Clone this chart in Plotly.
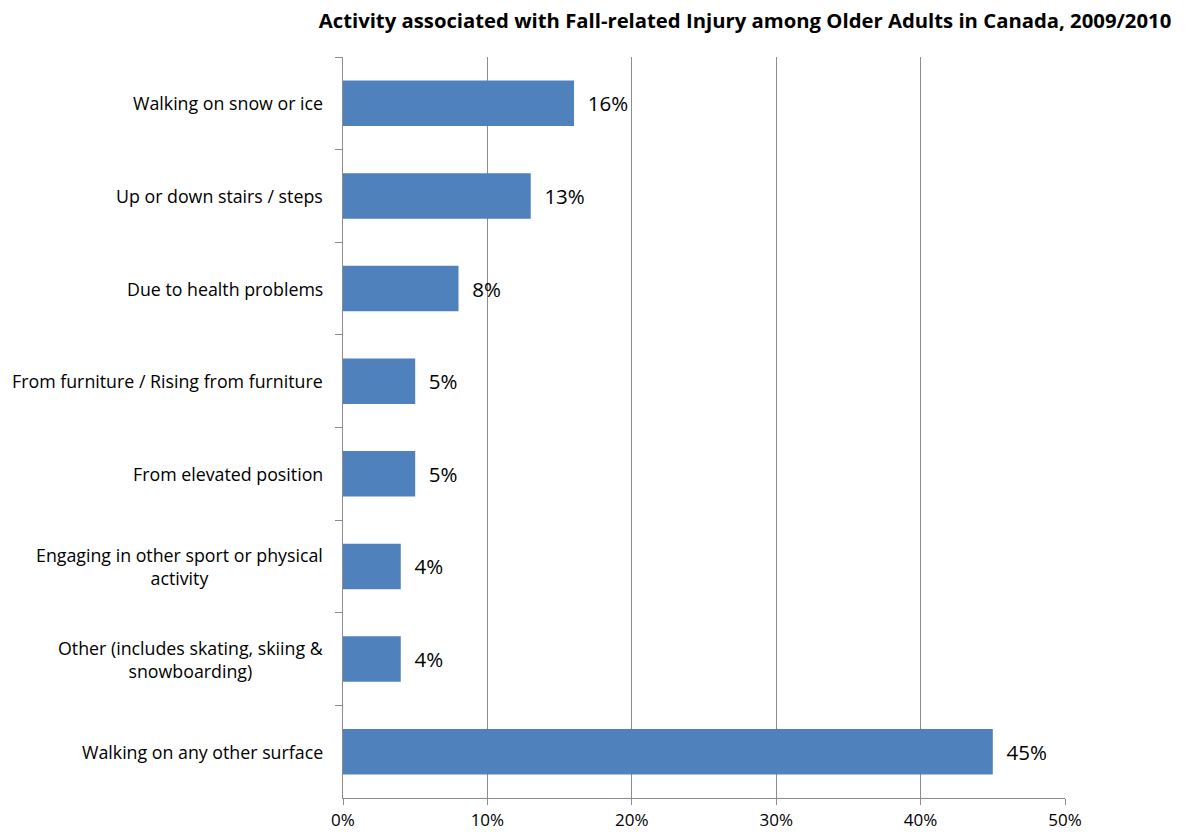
import plotly.graph_objects as go

categories = [
    "Walking on snow or ice",
    "Up or down stairs / steps",
    "Due to health problems",
    "From furniture / Rising from furniture",
    "From elevated position",
    "Engaging in other sport or physical<br>activity",
    "Other (includes skating, skiing &<br>snowboarding)",
    "Walking on any other surface",
]
values = [16, 13, 8, 5, 5, 4, 4, 45]
x_ticks = [0, 10, 20, 30, 40, 50]
x_tick_labels = ["0%", "10%", "20%", "30%", "40%", "50%"]
title = "Activity associated with Fall-related Injury among Older Adults in Canada, 2009/2010"

FONT = "Open Sans, Calibri, sans-serif"
GRID = "#8c8c8c"

fig = go.Figure(
    go.Bar(
        x=values,
        y=categories,
        orientation="h",
        marker=dict(color="#4F81BD", line=dict(color="#4F81BD", width=0)),
        text=[f"{v}%" for v in values],
        texttemplate="  %{text}",
        textposition="outside",
        textfont=dict(family=FONT, size=20.5, color="#000000"),
        cliponaxis=False,
        hoverinfo="skip",
    )
)

for c in categories:
    fig.add_annotation(
        x=0, xref="paper", y=c, yref="y",
        text=c, showarrow=False, xanchor="right", yanchor="middle",
        align="center", xshift=-18,
        font=dict(family=FONT, size=17.8, color="#000000"),
    )

fig.update_layout(
    width=1191, height=833,
    margin=dict(l=343, r=126, t=57, b=35, autoexpand=False),
    paper_bgcolor="white", plot_bgcolor="white",
    bargap=0.51,
    showlegend=False,
    title=dict(
        text=title, x=745 / 1191, xanchor="center", y=1 - 21 / 833, yanchor="middle",
        font=dict(family=FONT, size=20.3, color="#000000", weight="bold"),
    ),
    font=dict(family=FONT),
)

fig.update_xaxes(
    range=[0, 50], tickvals=x_ticks, ticktext=x_tick_labels,
    showgrid=True, gridcolor=GRID, gridwidth=1,
    showline=True, linecolor=GRID, linewidth=1,
    ticks="outside", ticklen=6, tickcolor=GRID, ticklabelstandoff=1,
    tickfont=dict(family=FONT, size=17, color="#000000"),
    zeroline=False, fixedrange=True,
)
fig.update_yaxes(
    autorange="reversed", showticklabels=False,
    showline=True, linecolor=GRID, linewidth=1,
    ticks="outside", ticklen=7, tickcolor=GRID, tickson="boundaries",
    showgrid=False, zeroline=False, fixedrange=True,
)

fig.write_html("out.html")
